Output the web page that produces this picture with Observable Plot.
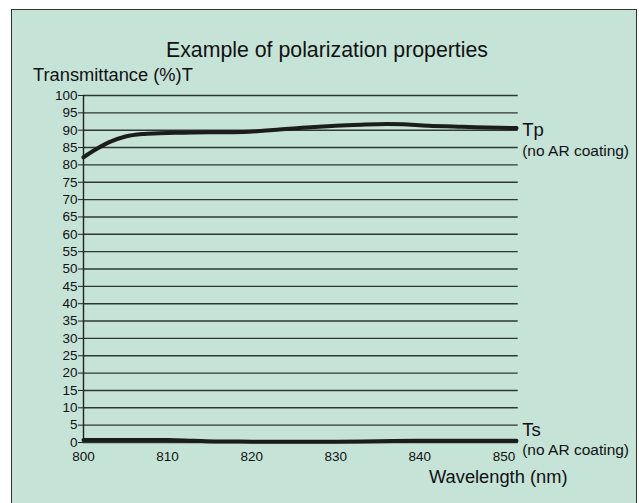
<!DOCTYPE html>
<html>
<head>
<meta charset="utf-8">
<script src="https://cdn.jsdelivr.net/npm/d3@7"></script>
<script src="https://cdn.jsdelivr.net/npm/@observablehq/plot@0.6"></script>
<style>
  html, body { margin: 0; padding: 0; background: #fff; }
  #wrap { position: relative; width: 639px; height: 503px; overflow: hidden; font-family: "Liberation Sans", Arial, Helvetica, sans-serif; color: #111; }
  #box { position: absolute; left: 11px; top: 9px; width: 626px; height: 520px; background: #c6e3d8; border: 1.5px solid #333; box-sizing: border-box; }
  .t { position: absolute; line-height: 1; white-space: nowrap; }
  #chart { position: absolute; left: 0; top: 0; }
</style>
</head>
<body>
<div id="wrap">
  <div id="box"></div>
  <div id="chart"></div>
  <div class="t" id="title" style="font-size:21.3px; top:40px; left:327px; transform:translateX(-50%);">Example of polarization properties</div>
  <div class="t" id="ylab" style="font-size:18.3px; top:65.5px; left:33px;">Transmittance (%)T</div>
  <div class="t" id="xlab" style="font-size:18.3px; top:467.5px; left:429px;">Wavelength (nm)</div>
</div>
<script>
const wavelength = [800, 801, 803, 805, 807, 809, 812, 815, 819, 823, 826, 830, 833, 836, 838, 841, 845, 848, 851.5];
const tp = [82.2, 83.8, 86.5, 88.2, 88.9, 89.1, 89.3, 89.4, 89.5, 90.1, 90.7, 91.3, 91.6, 91.8, 91.7, 91.3, 91.0, 90.8, 90.6];
const tsWave = [800, 805, 810, 813, 816, 820, 825, 830, 835, 840, 845, 851.5];
const ts = [0.7, 0.75, 0.7, 0.5, 0.3, 0.25, 0.2, 0.25, 0.35, 0.5, 0.5, 0.5];
const yTicks = d3.range(0, 101, 5);
const xTicks = [800, 810, 820, 830, 840, 850];
const seriesLabels = [
  {x: 851.7, y: 90, text: "Tp", size: 18.5, dy: 0},
  {x: 851.7, y: 85, text: "(no AR coating)", size: 15.5, dy: 3},
  {x: 851.7, y: 5, text: "Ts", size: 18.5, dy: 5},
  {x: 851.7, y: 0, text: "(no AR coating)", size: 15.5, dy: 8}
];

const tpData = wavelength.map((w, i) => ({w, v: tp[i]}));
const tsData = tsWave.map((w, i) => ({w, v: ts[i]}));

const plot = Plot.plot({
  width: 639,
  height: 503,
  marginLeft: 83,
  marginRight: 121.3,
  marginTop: 95,
  marginBottom: 61,
  style: {background: "transparent", fontFamily: "'Liberation Sans', Arial, Helvetica, sans-serif", color: "#111", overflow: "visible"},
  x: {domain: [800, 851.7]},
  y: {domain: [0, 100]},
  marks: [
    Plot.ruleY(yTicks, {x1: 800, x2: 851.7, stroke: "#2e3633", strokeWidth: 1.4}),
    Plot.ruleX([800], {y1: 0, y2: 100, stroke: "#222", strokeWidth: 1.4}),
    Plot.axisY({ticks: yTicks, tickSize: 5, tickPadding: 1, fontSize: 13.5, label: null, stroke: "#222", fill: "#111"}),
    Plot.axisX({ticks: xTicks, tickSize: 0, tickPadding: 9, fontSize: 13.5, label: null, fill: "#111"}),
    Plot.line(tpData, {x: "w", y: "v", curve: "catmull-rom", stroke: "#1c1c1c", strokeWidth: 4}),
    Plot.line(tsData, {x: "w", y: "v", curve: "catmull-rom", stroke: "#1c1c1c", strokeWidth: 4}),
    ...seriesLabels.map(d => Plot.text([d], {x: "x", y: "y", text: "text", textAnchor: "start", dx: 4, dy: d.dy, fontSize: d.size, fill: "#111"}))
  ]
});
document.getElementById("chart").appendChild(plot);
</script>
</body>
</html>
